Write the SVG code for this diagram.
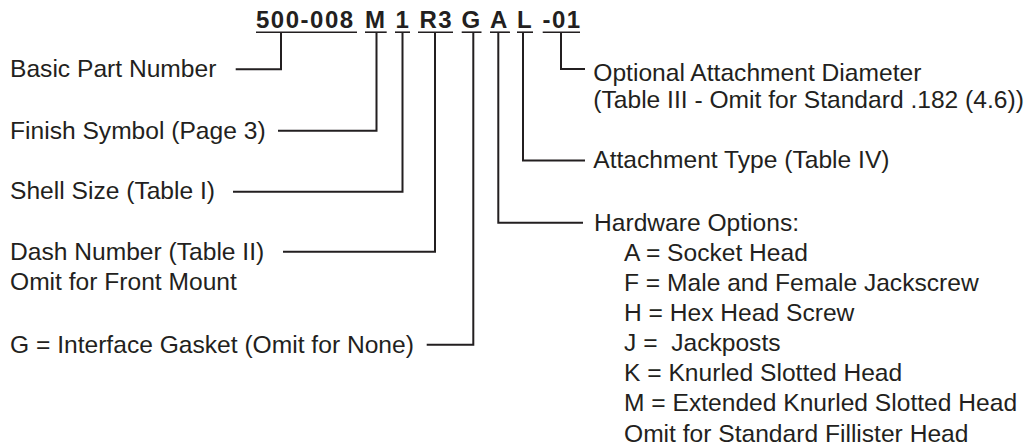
<svg xmlns="http://www.w3.org/2000/svg" width="1028" height="445" viewBox="0 0 1028 445">
<style>
.t{font-family:"Liberation Sans",Arial,Helvetica,sans-serif;font-size:24.6px;fill:#231f20}
.h{font-family:"Liberation Sans",Arial,Helvetica,sans-serif;font-size:24px;font-weight:bold;fill:#231f20;letter-spacing:1.5px}
.c{fill:none;stroke:#231f20;stroke-width:2}
.u{stroke:#231f20;stroke-width:1.6}
</style>
<rect width="1028" height="445" fill="#ffffff"/>
<g id="part-number">
<text class="h" x="256" y="28.3">500-008</text>
<text class="h" x="365" y="28.3">M</text>
<text class="h" x="395.5" y="28.3">1</text>
<text class="h" x="419.5" y="28.3">R3</text>
<text class="h" x="461.5" y="28.3">G</text>
<text class="h" x="490" y="28.3">A</text>
<text class="h" x="517" y="28.3">L</text>
<text class="h" x="542.5" y="28.3">-01</text>
<line class="u" x1="256" y1="32.2" x2="357" y2="32.2"/>
<line class="u" x1="365" y1="32.2" x2="386.7" y2="32.2"/>
<line class="u" x1="395" y1="32.2" x2="410" y2="32.2"/>
<line class="u" x1="418" y1="32.2" x2="453" y2="32.2"/>
<line class="u" x1="461.7" y1="32.2" x2="481.5" y2="32.2"/>
<line class="u" x1="490" y1="32.2" x2="510" y2="32.2"/>
<line class="u" x1="517" y1="32.2" x2="533" y2="32.2"/>
<line class="u" x1="542.7" y1="32.2" x2="580" y2="32.2"/>
</g>
<g id="basic-part-number"><text class="t" x="10" y="77.3">Basic Part Number</text></g>
<g id="finish-symbol"><text class="t" x="10" y="139.3">Finish Symbol (Page 3)</text></g>
<g id="shell-size"><text class="t" x="10" y="198.8">Shell Size (Table I)</text></g>
<g id="dash-number"><text class="t" x="10" y="259.5">Dash Number (Table II)</text><text class="t" x="10" y="290">Omit for Front Mount</text></g>
<g id="interface-gasket"><text class="t" x="10" y="353">G = Interface Gasket (Omit for None)</text></g>
<g id="attachment-diameter"><text class="t" x="593.3" y="81">Optional Attachment Diameter</text><text class="t" x="593.3" y="108">(Table III - Omit for Standard .182 (4.6))</text></g>
<g id="attachment-type"><text class="t" x="593.3" y="168.3">Attachment Type (Table IV)</text></g>
<g id="hardware-options">
<text class="t" x="594" y="230.7">Hardware Options:</text>
<text class="t" x="624" y="260.7">A = Socket Head</text>
<text class="t" x="624" y="291">F = Male and Female Jackscrew</text>
<text class="t" x="624" y="320.9">H = Hex Head Screw</text>
<text class="t" x="624" y="350.8" xml:space="preserve">J =  Jackposts</text>
<text class="t" x="624" y="381.2">K = Knurled Slotted Head</text>
<text class="t" x="624" y="411.4">M = Extended Knurled Slotted Head</text>
<text class="t" x="624" y="441.5">Omit for Standard Fillister Head</text>
</g>
<g id="connectors">
<polyline class="c" points="281,33 281,69.3 235.7,69.3"/>
<polyline class="c" points="376.5,33 376.5,130.7 278,130.7"/>
<polyline class="c" points="402.5,33 402.5,191.7 233,191.7"/>
<polyline class="c" points="435,33 435,251.7 283,251.7"/>
<polyline class="c" points="473.3,33 473.3,344.8 426.7,344.8"/>
<polyline class="c" points="498.3,33 498.3,222.7 583,222.7"/>
<polyline class="c" points="523,33 523,160.5 585,160.5"/>
<polyline class="c" points="561,33 561,69 585,69"/>
</g>
</svg>
